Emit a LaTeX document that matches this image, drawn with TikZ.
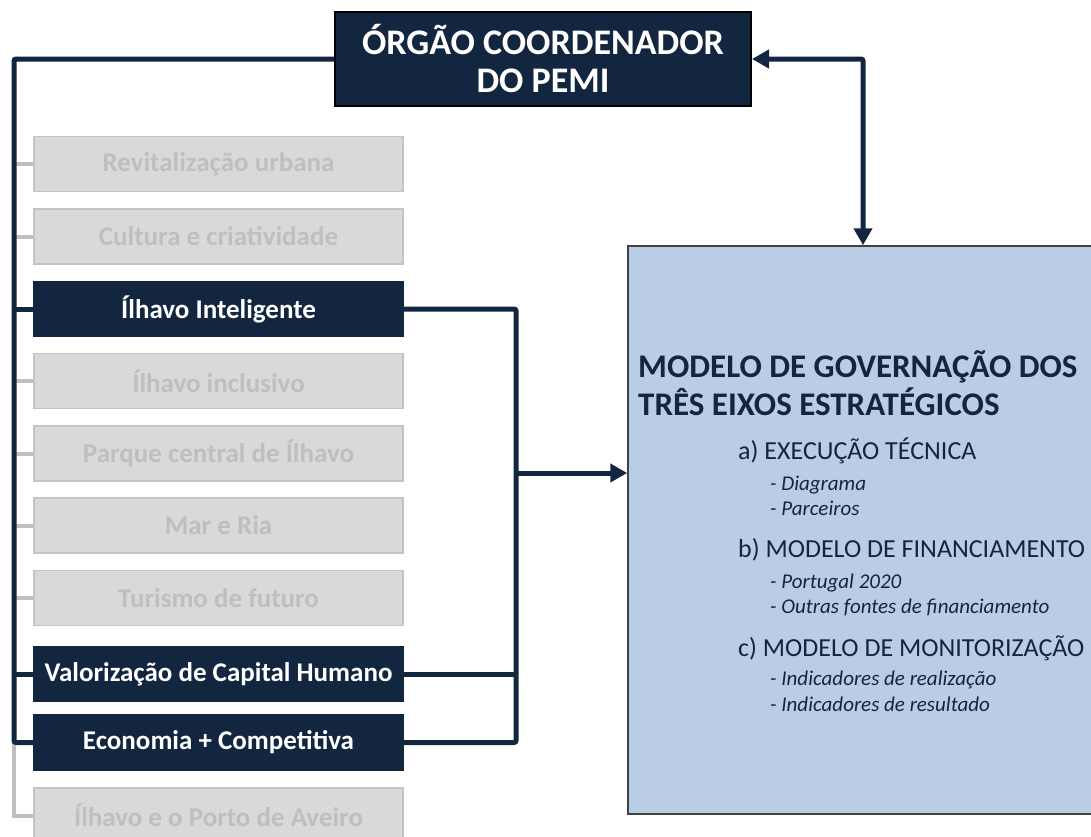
\documentclass[tikz,border=0pt]{standalone}
\usepackage{fontspec}
\setmainfont{Carlito}
\usetikzlibrary{arrows.meta}
\definecolor{navy}{RGB}{19,38,63}
\definecolor{lblue}{RGB}{185,205,229}
\definecolor{gfill}{RGB}{217,217,217}
\definecolor{gborder}{RGB}{196,196,196}
\definecolor{gtext}{RGB}{191,191,191}
\definecolor{gline}{RGB}{191,191,191}
\definecolor{bborder}{RGB}{64,64,64}
\tikzset{
  gbox/.style={draw=gborder, fill=gfill, line width=1.5pt, minimum width=369pt, minimum height=55pt, inner sep=0pt, text=gtext, font=\fontsize{27}{30}\selectfont\bfseries},
  dbox/.style={gbox, draw=navy, fill=navy, text=white},
  dline/.style={draw=navy, line width=5pt, rounded corners=2pt},
  gconn/.style={draw=gline, line width=4pt},
  tip/.style={-{Triangle[length=17pt,width=18pt]}},
  dtip/.style={{Triangle[length=17pt,width=18pt]}-{Triangle[length=17pt,width=18pt]}},
  titletext/.style={anchor=base west, text=navy, inner sep=0pt, font=\fontsize{33}{38}\selectfont\bfseries},
  headtext/.style={anchor=base west, text=navy, inner sep=0pt, font=\fontsize{26}{30}\selectfont},
  subtext/.style={anchor=base west, text=navy, inner sep=0pt, font=\fontsize{21}{24}\selectfont\itshape}
}
\begin{document}
\begin{tikzpicture}[x=1pt,y=-1pt]
\useasboundingbox (0,0) rectangle (1091,836);
% blue box
\node[draw=bborder, fill=lblue, line width=1.5pt, minimum width=470pt, minimum height=568pt, inner sep=0pt] (blue) at (863,530) {};
% top box
\node[draw=black, fill=navy, line width=2pt, minimum width=416pt, minimum height=94pt, inner sep=0pt, text=white, align=center, font=\fontsize{36}{38}\selectfont\bfseries] (top) at (543,59) {ÓRGÃO COORDENADOR\\DO PEMI};
% boxes
\node[gbox] (b1) at (218.5,164) {Revitalização urbana};
\node[gbox] (b2) at (218.5,236.5) {Cultura e criatividade};
\node[dbox] (b3) at (218.5,309) {Ílhavo Inteligente};
\node[gbox] (b4) at (218.5,381) {Ílhavo inclusivo};
\node[gbox] (b5) at (218.5,453.5) {Parque central de Ílhavo};
\node[gbox] (b6) at (218.5,525.5) {Mar e Ria};
\node[gbox] (b7) at (218.5,598) {Turismo de futuro};
\node[dbox] (b8) at (218.5,674) {Valorização de Capital Humano};
\node[dbox] (b9) at (218.5,742.5) {Economia + Competitiva};
\node[gbox] (b10) at (218.5,815.5) {Ílhavo e o Porto de Aveiro};
% coordinates
\coordinate (lt) at (14,59);
\coordinate (lb) at (14,742.5);
\coordinate (rv) at (516,309);
\coordinate (junc) at (516,473);
% gray branches
\foreach \b in {b1,b2,b4,b5,b6,b7} { \draw[gconn] (\b.west) -- (\b.west -| lt); }
\draw[gconn] (b10.west) -| (lb);
% dark left spine
\draw[dline] (top.west) -- (lt) -- (lb) -- (b9.west);
\draw[dline] (b3.west) -- (b3.west -| lt);
\draw[dline] (b8.west) -- (b8.west -| lt);
% right spine
\draw[dline] (b3.east) -- (rv) -- (rv |- b9.east) -- (b9.east);
\draw[dline] (b8.east) -- (b8.east -| rv);
\draw[dline, tip, rounded corners=0pt] (junc) -- (junc -| blue.west);
% double arrow
\draw[dline, dtip] (top.east) -| (blue.north);
% text in blue box
\node[titletext] (t1) at (638,377) {MODELO DE GOVERNAÇÃO DOS};
\node[titletext] (t2) at (638,415) {TRÊS EIXOS ESTRATÉGICOS};
\node[headtext] (ha) at (738,459) {a) EXECUÇÃO TÉCNICA};
\node[subtext] (a1) at (770,490) {- Diagrama};
\node[subtext] (a2) at (770,515) {- Parceiros};
\node[headtext] (hb) at (738,557) {b) MODELO DE FINANCIAMENTO};
\node[subtext] (b1t) at (770,588) {- Portugal 2020};
\node[subtext] (b2t) at (770,613) {- Outras fontes de financiamento};
\node[headtext] (hc) at (738,656) {c) MODELO DE MONITORIZAÇÃO};
\node[subtext] (c1) at (770,685) {- Indicadores de realização};
\node[subtext] (c2) at (770,711) {- Indicadores de resultado};
\end{tikzpicture}
\end{document}
